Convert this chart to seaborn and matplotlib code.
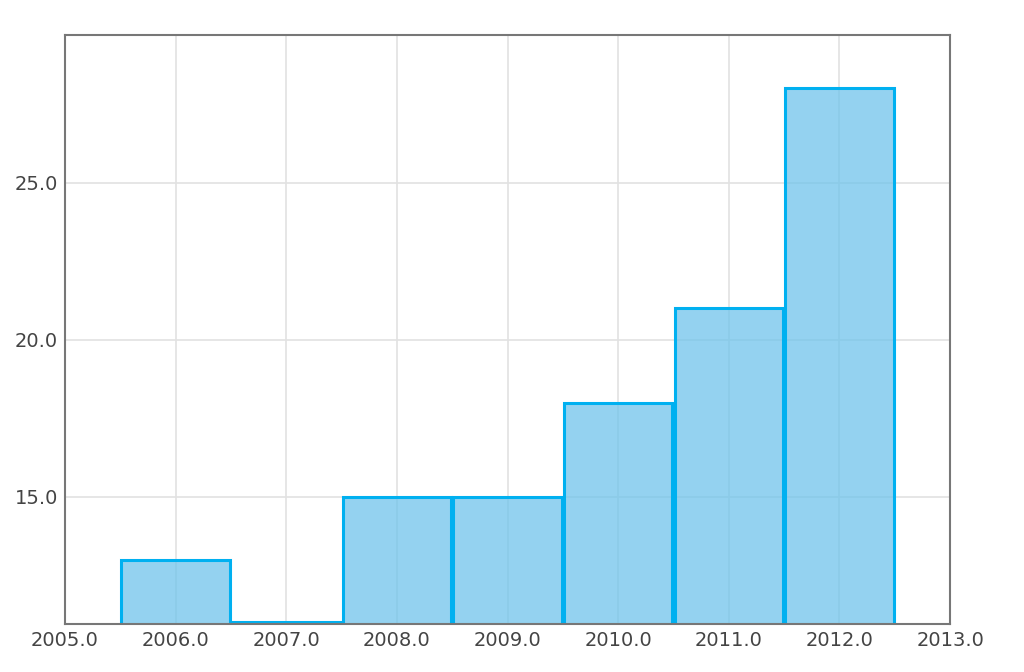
import matplotlib
matplotlib.use("Agg")
import pandas as pd
import seaborn as sns
import matplotlib.pyplot as plt
from matplotlib.ticker import FormatStrFormatter, FixedLocator

years = [2006, 2007, 2008, 2009, 2010, 2011, 2012]
counts = [13, 11, 15, 15, 18, 21, 28]
x_ticks = [2005, 2006, 2007, 2008, 2009, 2010, 2011, 2012, 2013]
y_ticks = [15, 20, 25]

df = pd.DataFrame({"year": years, "count": counts})

sns.set_theme(style="whitegrid")
plt.rcParams['font.family'] = ['DejaVu Sans']

fig = plt.figure(figsize=(10.24, 6.72), dpi=100)
ax = fig.add_axes([0.0635, 0.0714, 0.8643, 0.8765])

sns.histplot(data=df, x="year", weights="count", discrete=True, shrink=0.98, ax=ax,
             color="#70c4eb", edgecolor="#00aeef", linewidth=2.2)

fill_rgba = (112 / 255, 196 / 255, 235 / 255, 0.75)
for p in ax.patches:
    p.set_alpha(None)
    p.set_facecolor(fill_rgba)
    p.set_edgecolor("#00b0f0")
    p.set_zorder(2)

ax.set_xlim(2005, 2013)
ax.set_ylim(10.95, 29.7)
ax.xaxis.set_major_locator(FixedLocator(x_ticks))
ax.yaxis.set_major_locator(FixedLocator(y_ticks))
ax.xaxis.set_major_formatter(FormatStrFormatter("%.1f"))
ax.yaxis.set_major_formatter(FormatStrFormatter("%.1f"))
ax.set_xlabel("")
ax.set_ylabel("")

ax.grid(True, color="#e2e2e2", linewidth=1.2)
ax.set_axisbelow(True)
ax.tick_params(length=0, labelsize=14, labelcolor="#444444", pad=5)
for s in ax.spines.values():
    s.set_color("#777777")
    s.set_linewidth(1.5)
    s.set_zorder(3)

plt.savefig("out.png", dpi=100, facecolor="white")
